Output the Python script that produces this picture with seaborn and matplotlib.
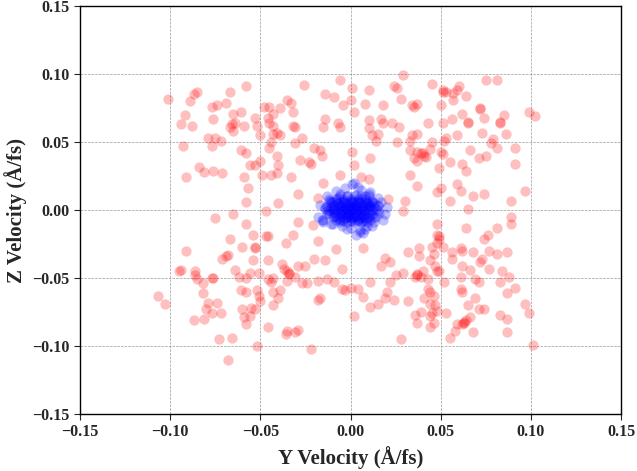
import numpy as np
import matplotlib
matplotlib.use('Agg')
from matplotlib import pyplot as plt
import seaborn as sns

# velocities (A/fs)
# hot atoms: (y velocity, z velocity)
hot_atoms = [
    (-0.101, 0.082), (-0.089, 0.080), (-0.087, 0.085), (-0.085, 0.087), (-0.067, 0.087), (-0.058, 0.091),
    (-0.077, 0.076), (-0.074, 0.077), (-0.069, 0.079), (-0.092, 0.070), (-0.065, 0.071), (-0.061, 0.072),
    (-0.076, 0.067), (-0.094, 0.063), (-0.088, 0.062), (-0.067, 0.061), (-0.064, 0.064), (-0.059, 0.062),
    (-0.065, 0.058), (-0.079, 0.053), (-0.075, 0.053), (-0.072, 0.051), (-0.093, 0.047), (-0.077, 0.047),
    (-0.061, 0.044), (-0.058, 0.042), (-0.084, 0.032), (-0.081, 0.028), (-0.076, 0.029), (-0.071, 0.027),
    (-0.091, 0.024), (-0.059, 0.024), (-0.057, 0.016), (-0.058, 0.006), (-0.065, -0.003), (-0.066, 0.063),
    (-0.026, 0.092), (-0.006, 0.096), (0.001, 0.090), (0.010, 0.088), (0.024, 0.091), (-0.014, 0.085),
    (-0.009, 0.083), (-0.035, 0.081), (-0.033, 0.079), (-0.048, 0.076), (-0.045, 0.076), (-0.039, 0.075),
    (-0.032, 0.072), (-0.043, 0.071), (-0.004, 0.077), (0.000, 0.081), (0.008, 0.078), (0.018, 0.077),
    (0.002, 0.072), (-0.053, 0.068), (-0.046, 0.068), (-0.052, 0.062), (-0.045, 0.064), (-0.043, 0.062),
    (-0.032, 0.062), (-0.031, 0.061), (-0.014, 0.067), (-0.015, 0.061), (-0.007, 0.064), (-0.006, 0.061),
    (0.010, 0.066), (0.017, 0.067), (0.018, 0.064), (0.010, 0.060), (0.023, 0.064), (-0.050, 0.055),
    (-0.043, 0.056), (-0.041, 0.057), (-0.039, 0.055), (-0.027, 0.053), (0.012, 0.055), (0.015, 0.056),
    (0.014, 0.051), (-0.044, 0.050), (-0.045, 0.046), (-0.031, 0.049), (-0.020, 0.046), (-0.017, 0.044),
    (-0.016, 0.040), (0.001, 0.043), (-0.041, 0.040), (-0.050, 0.036), (-0.028, 0.037), (-0.023, 0.035),
    (-0.022, 0.034), (0.002, 0.033), (0.011, 0.038), (-0.056, 0.033), (-0.053, 0.033), (-0.040, 0.033),
    (-0.049, 0.026), (-0.044, 0.026), (-0.041, 0.027), (-0.033, 0.024), (-0.006, 0.026), (-0.015, 0.020),
    (-0.029, 0.012), (-0.040, 0.005), (-0.018, 0.009), (0.021, 0.008), (-0.047, -0.001), (0.006, 0.024),
    (0.010, 0.023),
    (0.029, 0.099), (0.045, 0.093), (0.051, 0.088), (0.053, 0.087), (0.057, 0.086), (0.059, 0.088),
    (0.060, 0.091), (0.057, 0.081), (0.064, 0.084), (0.028, 0.082), (0.034, 0.077), (0.035, 0.076),
    (0.037, 0.078), (0.050, 0.077), (0.075, 0.096), (0.081, 0.096), (0.072, 0.075), (0.099, 0.072),
    (0.102, 0.069), (0.027, 0.061), (0.043, 0.064), (0.051, 0.064), (0.056, 0.067), (0.062, 0.071),
    (0.065, 0.064), (0.074, 0.068), (0.083, 0.064), (0.085, 0.070), (0.073, 0.057), (0.079, 0.052),
    (0.078, 0.049), (0.086, 0.056), (0.059, 0.055), (0.053, 0.053), (0.052, 0.051), (0.034, 0.055),
    (0.037, 0.056), (0.026, 0.050), (0.033, 0.051), (0.045, 0.050), (0.033, 0.044), (0.037, 0.043),
    (0.039, 0.042), (0.042, 0.039), (0.044, 0.045), (0.050, 0.043), (0.051, 0.041), (0.066, 0.044),
    (0.071, 0.038), (0.075, 0.040), (0.081, 0.046), (0.091, 0.046), (0.091, 0.034), (0.035, 0.038),
    (0.037, 0.036), (0.055, 0.035), (0.062, 0.034), (0.049, 0.031), (0.064, 0.029), (0.033, 0.026),
    (0.037, 0.018), (0.059, 0.019), (0.061, 0.014), (0.048, 0.013), (0.050, 0.016), (0.068, 0.010),
    (0.074, 0.012), (0.055, 0.007), (0.030, 0.007), (0.089, 0.007), (0.097, 0.014), (0.065, 0.001),
    (0.029, -0.001), (0.026, 0.090), (0.051, 0.087), (0.072, 0.074), (0.065, 0.065), (0.083, 0.065),
    (0.040, 0.042), (0.041, 0.040),
    (-0.075, -0.006), (-0.058, -0.010), (-0.067, -0.021), (-0.060, -0.027), (-0.091, -0.030), (-0.071, -0.036),
    (-0.069, -0.034), (-0.068, -0.033), (-0.095, -0.045), (-0.094, -0.044), (-0.086, -0.045), (-0.086, -0.048),
    (-0.085, -0.051), (-0.082, -0.054), (-0.082, -0.061), (-0.077, -0.050), (-0.076, -0.050), (-0.064, -0.044),
    (-0.062, -0.049), (-0.058, -0.050), (-0.061, -0.059), (-0.058, -0.060), (-0.107, -0.063), (-0.103, -0.069),
    (-0.079, -0.068), (-0.074, -0.068), (-0.080, -0.073), (-0.077, -0.076), (-0.072, -0.076), (-0.060, -0.073),
    (-0.087, -0.081), (-0.081, -0.080), (-0.059, -0.079), (-0.058, -0.084), (-0.073, -0.095), (-0.066, -0.094),
    (-0.068, -0.110),
    (-0.029, -0.009), (-0.021, -0.011), (-0.054, -0.018), (-0.047, -0.019), (-0.046, -0.019), (-0.032, -0.018),
    (-0.036, -0.024), (-0.018, -0.023), (-0.053, -0.028), (-0.053, -0.027), (-0.008, -0.029), (0.007, -0.028),
    (-0.054, -0.037), (-0.046, -0.037), (-0.038, -0.040), (-0.037, -0.043), (-0.034, -0.046), (-0.035, -0.045),
    (-0.029, -0.041), (-0.025, -0.041), (-0.020, -0.036), (-0.014, -0.037), (-0.005, -0.043), (0.019, -0.035),
    (0.017, -0.041), (0.022, -0.038), (-0.056, -0.046), (-0.051, -0.046), (-0.046, -0.051), (-0.043, -0.050),
    (-0.044, -0.053), (-0.035, -0.052), (-0.031, -0.049), (-0.027, -0.054), (-0.024, -0.054), (-0.018, -0.052),
    (-0.013, -0.051), (-0.009, -0.053), (-0.005, -0.058), (-0.003, -0.059), (0.000, -0.057), (0.004, -0.058),
    (0.007, -0.064), (0.011, -0.053), (0.020, -0.060), (0.019, -0.065), (0.022, -0.053), (0.024, -0.066),
    (-0.052, -0.059), (-0.051, -0.063), (-0.050, -0.067), (-0.043, -0.060), (-0.039, -0.059), (-0.040, -0.065),
    (-0.043, -0.070), (-0.018, -0.066), (-0.017, -0.065), (0.015, -0.069), (0.011, -0.071), (-0.055, -0.072),
    (-0.053, -0.073), (-0.056, -0.078), (0.002, -0.078), (-0.046, -0.086), (-0.036, -0.091), (-0.035, -0.089),
    (-0.031, -0.090), (-0.029, -0.088), (-0.052, -0.100), (-0.022, -0.102), (-0.034, -0.047),
    (0.048, -0.010), (0.064, -0.013), (0.089, -0.005), (0.089, -0.010), (0.081, -0.013), (0.074, -0.021),
    (0.076, -0.018), (0.049, -0.019), (0.049, -0.021), (0.048, -0.024), (0.051, -0.027), (0.045, -0.027),
    (0.046, -0.032), (0.038, -0.028), (0.032, -0.031), (0.038, -0.034), (0.044, -0.037), (0.047, -0.041),
    (0.048, -0.045), (0.049, -0.045), (0.056, -0.031), (0.056, -0.036), (0.061, -0.028), (0.062, -0.030),
    (0.068, -0.031), (0.077, -0.030), (0.081, -0.032), (0.087, -0.031), (0.072, -0.038), (0.073, -0.036),
    (0.062, -0.041), (0.066, -0.044), (0.077, -0.043), (0.084, -0.045), (0.088, -0.049), (0.083, -0.053),
    (0.091, -0.057), (0.087, -0.061), (0.069, -0.051), (0.071, -0.053), (0.061, -0.049), (0.052, -0.053),
    (0.061, -0.058), (0.062, -0.060), (0.069, -0.065), (0.025, -0.048), (0.029, -0.046), (0.036, -0.049),
    (0.037, -0.048), (0.039, -0.049), (0.040, -0.045), (0.043, -0.051), (0.032, -0.067), (0.043, -0.058),
    (0.044, -0.060), (0.041, -0.065), (0.046, -0.063), (0.044, -0.069), (0.047, -0.070), (0.048, -0.074),
    (0.045, -0.076), (0.044, -0.078), (0.046, -0.083), (0.044, -0.086), (0.039, -0.075), (0.037, -0.083),
    (0.036, -0.077), (0.053, -0.076), (0.065, -0.070), (0.071, -0.073), (0.074, -0.073), (0.083, -0.077),
    (0.087, -0.080), (0.066, -0.079), (0.064, -0.081), (0.063, -0.082), (0.062, -0.084), (0.059, -0.084),
    (0.058, -0.089), (0.055, -0.094), (0.068, -0.090), (0.087, -0.090), (0.097, -0.069), (0.099, -0.076),
    (0.101, -0.099), (0.028, -0.095), (0.048, -0.018), (0.037, -0.047), (0.063, -0.083),
]

# cold atoms: tight blob around zero
cold_atoms = [
    # halo
    (0.001, 0.019), (0.002, 0.020), (0.006, 0.015), (0.010, 0.012), (0.011, 0.013), (0.015, 0.004),
    (0.016, -0.002), (0.019, -0.003), (0.013, -0.009), (0.005, -0.016), (0.005, -0.015), (-0.010, -0.010),
    (-0.011, -0.010), (-0.015, -0.007), (-0.016, -0.007), (-0.011, 0.007), (-0.012, 0.008), (-0.003, 0.016),
    (-0.006, 0.012), (0.008, 0.010), (0.012, 0.006), (-0.014, 0.002), (-0.013, -0.003), (0.000, -0.013),
    (0.009, -0.012), (-0.005, -0.012), (0.014, -0.005),
    (-0.018, -0.005), (-0.017, 0.004), (0.020, 0.002), (0.018, -0.007), (-0.008, 0.014), (0.004, 0.017),
    (0.008, -0.014), (-0.002, -0.014), (0.003, -0.018), (0.007, -0.017), (-0.013, 0.010), (0.015, 0.009),
    (0.017, 0.006), (-0.015, -0.009), (0.012, -0.012),
    # core
    (-0.008, 0.008), (-0.004, 0.008), (0.000, 0.008), (0.004, 0.008), (0.008, 0.008),
    (-0.010, 0.006), (-0.006, 0.006), (-0.002, 0.006), (0.002, 0.006), (0.006, 0.006), (0.010, 0.006),
    (-0.009, 0.004), (-0.005, 0.004), (-0.001, 0.004), (0.003, 0.004), (0.007, 0.004), (0.011, 0.004),
    (-0.011, 0.002), (-0.007, 0.002), (-0.003, 0.002), (0.001, 0.002), (0.005, 0.002), (0.009, 0.002),
    (0.013, 0.002), (-0.012, 0.000), (-0.008, 0.000), (-0.004, 0.000), (0.000, 0.000), (0.004, 0.000),
    (0.008, 0.000), (0.012, 0.000), (-0.010, -0.002), (-0.006, -0.002), (-0.002, -0.002), (0.002, -0.002),
    (0.006, -0.002), (0.010, -0.002), (-0.009, -0.004), (-0.005, -0.004), (-0.001, -0.004), (0.003, -0.004),
    (0.007, -0.004), (0.011, -0.004), (-0.007, -0.006), (-0.003, -0.006), (0.001, -0.006), (0.005, -0.006),
    (0.009, -0.006), (-0.004, -0.008), (0.000, -0.008), (0.004, -0.008), (0.007, -0.008),
    (-0.002, 0.010), (0.003, 0.011), (-0.007, 0.009), (0.006, 0.008), (-0.001, 0.005), (0.001, -0.001),
    (-0.003, 0.001), (0.003, 0.003), (0.005, -0.003), (-0.005, -0.001), (0.000, 0.002), (0.002, -0.004),
    (-0.002, -0.005), (0.007, 0.001), (-0.006, 0.003), (0.004, 0.006), (-0.004, 0.006), (0.000, -0.006),
    (0.008, -0.006), (-0.008, -0.004), (0.001, 0.007), (-0.001, -0.003), (0.006, -0.001), (-0.009, 0.001),
    (0.010, 0.003), (0.002, 0.001), (-0.003, -0.002), (0.004, -0.007), (-0.006, -0.007), (0.009, 0.005),
    (-0.006, 0.010), (-0.002, 0.010), (0.002, 0.010), (0.006, 0.010), (0.010, 0.010),
    (-0.012, 0.007), (-0.008, 0.007), (-0.004, 0.007), (0.000, 0.007), (0.004, 0.007), (0.008, 0.007),
    (0.012, 0.007), (-0.011, 0.005), (-0.007, 0.005), (-0.003, 0.005), (0.001, 0.005), (0.005, 0.005),
    (0.009, 0.005), (0.013, 0.005), (-0.013, 0.003), (-0.009, 0.003), (-0.005, 0.003), (-0.001, 0.003),
    (0.003, 0.003), (0.007, 0.003), (0.011, 0.003), (0.015, 0.003), (-0.014, 0.001), (-0.010, 0.001),
    (-0.006, 0.001), (-0.002, 0.001), (0.002, 0.001), (0.006, 0.001), (0.010, 0.001), (0.014, 0.001),
    (-0.013, -0.001), (-0.009, -0.001), (-0.005, -0.001), (-0.001, -0.001), (0.003, -0.001), (0.007, -0.001),
    (0.011, -0.001), (0.015, -0.001), (-0.012, -0.003), (-0.008, -0.003), (-0.004, -0.003), (0.000, -0.003),
    (0.004, -0.003), (0.008, -0.003), (0.012, -0.003), (-0.010, -0.005), (-0.006, -0.005), (-0.002, -0.005),
    (0.002, -0.005), (0.006, -0.005), (0.010, -0.005), (0.013, -0.005), (-0.008, -0.007), (-0.004, -0.007),
    (0.000, -0.007), (0.004, -0.007), (0.008, -0.007), (0.011, -0.007), (-0.006, -0.009), (-0.002, -0.009),
    (0.002, -0.009), (0.006, -0.009), (0.009, -0.009),
]

ticks = [-0.15, -0.10, -0.05, 0.00, 0.05, 0.10, 0.15]

hot = np.array(hot_atoms)
cold = np.array(cold_atoms)

sns.set_style('ticks')
plt.rcParams['font.family'] = ['Liberation Serif', 'DejaVu Serif']
plt.rcParams['font.weight'] = 'bold'

fig, ax = plt.subplots(figsize=(6.37, 4.71), dpi=100)
fig.subplots_adjust(left=0.1256, right=0.975, bottom=0.121, top=0.987)

sns.scatterplot(x=hot[:, 0], y=hot[:, 1], color='red', alpha=0.25, s=55, linewidth=0, ax=ax)
sns.scatterplot(x=cold[:, 0], y=cold[:, 1], color='blue', alpha=0.25, s=55, linewidth=0, ax=ax)

ax.set_xlim(-0.15, 0.15)
ax.set_ylim(-0.15, 0.15)
ax.set_xticks(ticks)
ax.set_yticks(ticks)
ax.tick_params(labelsize=11.5, direction='out', length=4)
for lab in ax.get_xticklabels() + ax.get_yticklabels():
    lab.set_fontweight('bold')
ax.set_xlabel('Y Velocity (Å/fs)', fontsize=15, fontweight='bold')
ax.set_ylabel('Z Velocity (Å/fs)', fontsize=15, fontweight='bold')
ax.grid(True, linestyle='--', color='gray', linewidth=0.5, alpha=0.8)
for sp in ax.spines.values():
    sp.set_color('black')
    sp.set_linewidth(1.0)

plt.savefig('out.png', dpi=100)
